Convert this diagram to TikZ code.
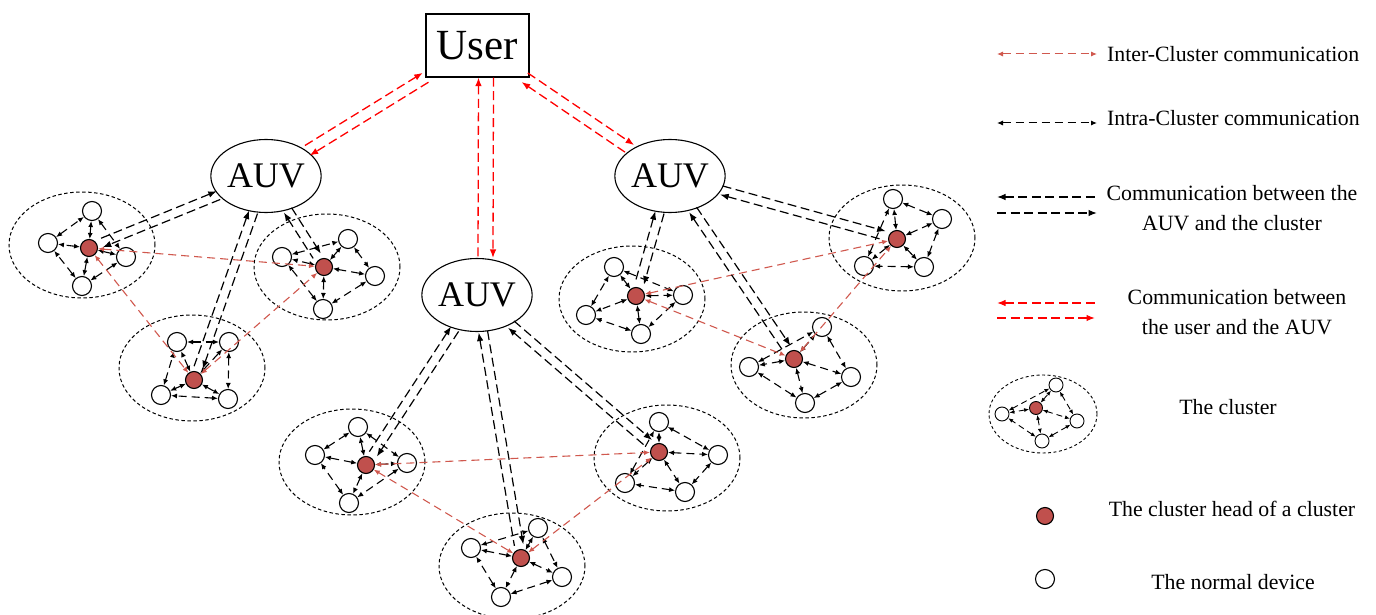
\documentclass[tikz,border=0pt]{standalone}
\usepackage{fontspec}
\setmainfont{Liberation Serif}
\usetikzlibrary{shapes.geometric,arrows.meta,calc}
\definecolor{headred}{RGB}{192,80,77}
\definecolor{interred}{RGB}{208,88,78}
\definecolor{userred}{RGB}{255,0,0}
\tikzset{
  cell/.style={draw, ellipse, dash pattern=on 3.5pt off 2.5pt, line width=1pt, minimum width=146pt, minimum height=106pt, inner sep=0pt},
  head/.style={draw, circle, fill=headred, line width=1.1pt, minimum size=17pt, inner sep=0pt},
  dev/.style={draw, circle, fill=white, line width=1.1pt, minimum size=19pt, inner sep=0pt},
  lcell/.style={draw, ellipse, dash pattern=on 3pt off 2.5pt, line width=0.9pt, minimum width=108pt, minimum height=78pt, inner sep=0pt},
  lhead/.style={draw, circle, fill=headred, line width=0.9pt, minimum size=13pt, inner sep=0pt},
  ldev/.style={draw, circle, fill=white, line width=0.9pt, minimum size=14pt, inner sep=0pt},
  smalltip/.tip={Latex[length=6pt,width=5pt]},
  bigtip/.tip={Latex[length=8.5pt,width=6.5pt]},
  intra/.style={line width=1.1pt, dash pattern=on 8pt off 5pt, smalltip-smalltip},
  lintra/.style={line width=0.9pt, dash pattern=on 6pt off 4pt, {Latex[length=5pt,width=4pt]}-{Latex[length=5pt,width=4pt]}},
  inter/.style={interred, line width=1.1pt, dash pattern=on 8pt off 5pt, smalltip-smalltip},
  acl/.style={line width=1.2pt, dash pattern=on 9pt off 4.5pt},
  ual/.style={userred, line width=1.3pt, dash pattern=on 9pt off 4.5pt},
  auv/.style={draw, ellipse, fill=white, line width=1.1pt, minimum width=102pt, minimum height=73pt, inner sep=0pt, font=\fontsize{36}{40}\selectfont},
  usr/.style={draw, rectangle, fill=white, line width=1.1pt, minimum width=103pt, minimum height=63pt, inner sep=0pt, font=\fontsize{43}{48}\selectfont},
  legtxt/.style={font=\fontsize{21.8}{30}\selectfont, align=center, inner sep=0pt},
}
\newcommand\clusterdraw[7]{%
  \node[cell] (#1) at #2 {};
  \node[head] (#1h) at #3 {};
  \node[dev] (#1a) at #4 {};
  \node[dev] (#1b) at #5 {};
  \node[dev] (#1c) at #6 {};
  \node[dev] (#1d) at #7 {};
  \draw[intra] (#1h) -- (#1a);
  \draw[intra] (#1h) -- (#1b);
  \draw[intra] (#1h) -- (#1c);
  \draw[intra] (#1h) -- (#1d);
  \draw[intra] (#1a) -- (#1b);
  \draw[intra] (#1b) -- (#1c);
  \draw[intra] (#1c) -- (#1d);
  \draw[intra] (#1d) -- (#1a);
}
\newcommand\dpair[4]{%
  \path let \p1=($(#3)-(#2)$), \n1={atan2(\y1,\x1)} in \pgfextra{\xdef\dpang{\n1}};
  \begin{scope}[transform canvas={shift={(\dpang+90:#4)}}]
    \draw[#1,-bigtip] (#2) -- (#3);
  \end{scope}
  \begin{scope}[transform canvas={shift={(\dpang-90:#4)}}]
    \draw[#1,bigtip-] (#2) -- (#3);
  \end{scope}}
\begin{document}
\begin{tikzpicture}[x=1pt,y=-1pt]
\useasboundingbox[fill=white] (0,0) rectangle (1376,615);

% clusters
\clusterdraw{C1}{(82,245)}{(89,248)}{(92,211)}{(126,257)}{(82,286)}{(48,243)}
\clusterdraw{C2}{(327,267)}{(324,267)}{(348,239)}{(375,276)}{(323,309)}{(282,257)}
\clusterdraw{C3}{(192,368)}{(194,380)}{(229,342)}{(228,399)}{(161,395)}{(177,342)}
\clusterdraw{C4}{(352,462)}{(366,465)}{(358,427)}{(407,463)}{(349,503)}{(315,455)}
\clusterdraw{C5}{(512,566)}{(521,558)}{(538,528)}{(562,577)}{(501,597)}{(471,548)}
\clusterdraw{C6}{(667,458)}{(659,452)}{(659,422)}{(718,455)}{(685,492)}{(625,483)}
\clusterdraw{C7}{(632,299)}{(636,296)}{(614,267)}{(683,295)}{(641,334)}{(586,315)}
\clusterdraw{C8}{(902,238)}{(897,239)}{(893,199)}{(942,219)}{(924,267)}{(864,266)}
\clusterdraw{C9}{(804,365)}{(794,359)}{(822,327)}{(851,377)}{(805,403)}{(749,367)}

% user and AUVs
\node[usr] (User) at (477.5,45.5) {User};
\node[auv] (AUV1) at (266,176) {AUV};
\node[auv] (AUV2) at (477,295) {AUV};
\node[auv] (AUV3) at (670,176) {AUV};

% inter-cluster links
\draw[inter] (C1h) -- (C2h);
\draw[inter] (C1h) -- (C3h);
\draw[inter] (C3h) -- (C2h);
\draw[inter] (C4h) -- (C6h);
\draw[inter] (C4h) -- (C5h);
\draw[inter] (C5h) -- (C6h);
\draw[inter] (C7h) -- (C8h);
\draw[inter] (C7h) -- (C9h);
\draw[inter] (C9h) -- (C8h);

% user - AUV links
\dpair{ual}{User}{AUV1}{5.5pt}
\dpair{ual}{User}{AUV3}{5.5pt}
\draw[ual,bigtip-] ([xshift=1pt]User.south) -- ([xshift=1pt]AUV2.north);
\draw[ual,-bigtip] ([xshift=16pt]User.south) -- ([xshift=16pt]AUV2.north);

% AUV - cluster links
\dpair{acl,shorten >=4pt}{AUV1}{C1h}{4.5pt}
\dpair{acl,shorten >=4pt}{AUV1}{C3h}{4.5pt}
\dpair{acl,shorten >=4pt}{AUV1}{C2h}{4.5pt}
\dpair{acl,shorten >=4pt}{AUV2}{C4h}{4.5pt}
\dpair{acl,shorten >=4pt}{AUV2}{C5h}{4.5pt}
\dpair{acl,shorten >=4pt}{AUV2}{C6h}{4.5pt}
\dpair{acl,shorten >=4pt}{AUV3}{C7h}{4.5pt}
\dpair{acl,shorten >=4pt}{AUV3}{C9h}{4.5pt}
\dpair{acl,shorten >=4pt}{AUV3}{C8h}{4.5pt}

% legend
\coordinate (La1) at (997,54);  \coordinate (Lb1) at (1097,54);
\draw[inter,line width=1pt] (La1) -- (Lb1);
\node[legtxt,anchor=west] (T1) at (1107,54) {Inter-Cluster communication};
\coordinate (La2) at (997,123);  \coordinate (Lb2) at (1097,123);
\draw[intra,line width=1pt] (La2) -- (Lb2);
\node[legtxt,anchor=west] (T2) at (1107,118) {Intra-Cluster communication};
\coordinate (La3) at (997,197);  \coordinate (Lb3) at (1097,197);
\coordinate (La4) at (997,213);  \coordinate (Lb4) at (1097,213);
\draw[acl,bigtip-] (La3) -- (Lb3);
\draw[acl,-bigtip] (La4) -- (Lb4);
\node[legtxt] (T3) at (1232,208) {Communication between the\\AUV and the cluster};
\coordinate (La5) at (997,303);  \coordinate (Lb5) at (1095,303);
\coordinate (La6) at (997,318);  \coordinate (Lb6) at (1095,318);
\draw[ual,bigtip-] (La5) -- (Lb5);
\draw[ual,-bigtip] (La6) -- (Lb6);
\node[legtxt] (T4) at (1237,312) {Communication between\\the user and the AUV};

\node[lcell] (LC) at (1043,414) {};
\node[lhead] (LCh) at (1036,408) {};
\node[ldev] (LCa) at (1056,385) {};
\node[ldev] (LCb) at (1077,421) {};
\node[ldev] (LCc) at (1042,441) {};
\node[ldev] (LCd) at (1002,414) {};
\draw[lintra] (LCh) -- (LCa);
\draw[lintra] (LCh) -- (LCb);
\draw[lintra] (LCh) -- (LCc);
\draw[lintra] (LCh) -- (LCd);
\draw[lintra] (LCa) -- (LCb);
\draw[lintra] (LCb) -- (LCc);
\draw[lintra] (LCc) -- (LCd);
\draw[lintra] (LCd) -- (LCa);
\node[legtxt] (T5) at (1228,407) {The cluster};

\node[head] (LH) at (1045,516) {};
\node[legtxt] (T6) at (1232,509) {The cluster head of a cluster};
\node[dev] (LN) at (1045,579) {};
\node[legtxt] (T7) at (1233,582) {The normal device};
\end{tikzpicture}
\end{document}
